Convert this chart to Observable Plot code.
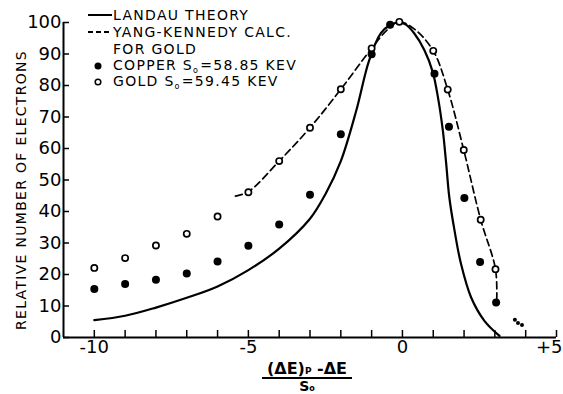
<!DOCTYPE html>
<html><head><meta charset="utf-8">
<script src="https://cdn.jsdelivr.net/npm/d3@7"></script>
<script src="https://cdn.jsdelivr.net/npm/@observablehq/plot@0.6"></script>
<style>
body{margin:0;background:#fff;}
#wrap{position:relative;width:563px;height:394px;font-family:"DejaVu Sans",sans-serif;color:#000;overflow:hidden;}
#wrap svg{position:absolute;left:0;top:0;}
</style></head><body><div id="wrap"></div>
<script>
// tick values
const xDomain = [-11, 5];
const xTicks = d3.range(-10, 6);
const xLabels = [-10, -5, 0, 5];
const yTicks = d3.range(0, 101, 10);

// Landau theory curve
const landauX = [-10, -9, -8, -7, -6, -5, -4, -3, -2.5, -2, -1.5, -1.08, -0.7, -0.4, -0.15, 0.1, 0.38, 0.71, 0.98, 1.15, 1.31, 1.42, 1.52, 1.69, 1.9, 2.23, 2.66, 3.15];
const landauY = [5.5, 6.9, 9.5, 12.6, 16.2, 21.4, 28.2, 37.7, 45.5, 56, 72, 88, 96.6, 99.2, 100, 99.4, 96.6, 91.3, 84.4, 76.4, 65.8, 55.2, 44.6, 34, 23.4, 12.7, 5.3, 0.5];

// Yang-Kennedy calc. for gold
const ykX = [-5.42, -5, -4, -3, -2, -1, -0.5, -0.1, 0.4, 1.0, 1.47, 1.99, 2.54, 3.02, 3.06];
const ykY = [44.9, 46.3, 56, 66.6, 78.8, 91.8, 97.6, 100.2, 97.8, 91, 78.7, 59.5, 37.4, 21.7, 11.7];

// Copper points
const copperX = [-10, -9, -8, -7, -6, -5, -4, -3, -2, -1, -0.4, 1.04, 1.51, 2.01, 2.52, 3.04];
const copperY = [15.4, 17, 18.3, 20.3, 24.1, 29.1, 35.9, 45.3, 64.5, 89.9, 99.3, 83.7, 66.9, 44.3, 24, 11.1];

// Gold points
const goldX = [-10, -9, -8, -7, -6, -5, -4, -3, -2, -1, -0.1, 1.0, 1.47, 1.99, 2.54, 3.02];
const goldY = [22.1, 25.2, 29.2, 32.9, 38.4, 46.1, 56, 66.6, 78.8, 91.8, 100.2, 91, 78.7, 59.5, 37.4, 21.7];

// smudge near +3.8
const smudgeX = [3.65, 3.75, 3.88];
const smudgeY = [5.6, 4.6, 4.0];

const zip = (xs, ys) => xs.map((x, i) => ({x, y: ys[i]}));
const landau = zip(landauX, landauY);
const yk = zip(ykX, ykY);
const copper = zip(copperX, copperY);
const gold = zip(goldX, goldY);
const smudge = zip(smudgeX, smudgeY);

const plot = Plot.plot({
  width: 563, height: 394,
  marginLeft: 63, marginRight: 7, marginTop: 22, marginBottom: 57,
  style: {fontFamily: "DejaVu Sans", fontSize: "18px", background: "white", color: "black", overflow: "visible"},
  x: {domain: xDomain, label: null},
  y: {domain: [0, 100], label: null},
  marks: [
    Plot.ruleY([0], {strokeWidth: 2}),
    Plot.ruleX([xDomain[0]], {strokeWidth: 2}),
    Plot.axisX({ticks: xTicks, tickSize: -7, tickFormat: () => "", strokeWidth: 1.5, label: null}),
    Plot.text(xLabels, {x: d => d, frameAnchor: "bottom", lineAnchor: "top", dy: 3, fontSize: 18,
      text: d => d > 0 ? "+" + d : String(d), textAnchor: "middle"}),
    Plot.axisY({ticks: yTicks, tickSize: -6, tickPadding: 8, fontSize: 18, strokeWidth: 1.5, label: null}),
    Plot.line(landau, {x: "x", y: "y", curve: "catmull-rom", strokeWidth: 2.2}),
    Plot.line(yk, {x: "x", y: "y", curve: "catmull-rom", strokeWidth: 1.7, strokeDasharray: "7,4"}),
    Plot.dot(copper, {x: "x", y: "y", r: 4, fill: "black"}),
    Plot.dot(gold, {x: "x", y: "y", r: 3.1, stroke: "black", fill: "white", strokeWidth: 1.7}),
    Plot.dot(smudge, {x: "x", y: "y", r: 2, fill: "black"})
  ]
});
const wrap = document.getElementById("wrap");
wrap.appendChild(plot);

// keep the "+5" label inside the picture, as in the reference
d3.select(plot).selectAll("text").filter(function() { return this.textContent === "+5"; })
  .attr("text-anchor", "end").attr("dx", 6);

// overlay: legend and axis titles
const ov = d3.select(wrap).append("svg").attr("width", 563).attr("height", 394)
  .style("pointer-events", "none")
  .attr("font-family", "DejaVu Sans").attr("fill", "black");

const lg = ov.append("g").attr("font-size", 14).attr("letter-spacing", 1.3);
lg.append("line").attr("x1", 88).attr("x2", 112).attr("y1", 15).attr("y2", 15).attr("stroke", "black").attr("stroke-width", 2);
lg.append("line").attr("x1", 88).attr("x2", 112).attr("y1", 32).attr("y2", 32).attr("stroke", "black").attr("stroke-width", 2).attr("stroke-dasharray", "5,3");
lg.append("text").attr("x", 113).attr("y", 20).text("LANDAU THEORY");
lg.append("text").attr("x", 113).attr("y", 37).text("YANG-KENNEDY CALC.");
lg.append("text").attr("x", 113).attr("y", 53.5).text("FOR GOLD");
lg.append("circle").attr("cx", 98).attr("cy", 66).attr("r", 3.5).attr("fill", "black");
const t1 = lg.append("text").attr("x", 113).attr("y", 69.5);
t1.append("tspan").text("COPPER  S");
t1.append("tspan").attr("font-size", 8).attr("dy", 3).text("o");
t1.append("tspan").attr("dy", -3).attr("dx", 1).text("=58.85 KEV");
lg.append("circle").attr("cx", 98).attr("cy", 82).attr("r", 2.8).attr("fill", "white").attr("stroke", "black").attr("stroke-width", 1.5);
const t2 = lg.append("text").attr("x", 113).attr("y", 85.5);
t2.append("tspan").text("GOLD   S");
t2.append("tspan").attr("font-size", 8).attr("dy", 3).text("o");
t2.append("tspan").attr("dy", -3).attr("dx", 1).text("=59.45 KEV");

// y title
ov.append("text").attr("transform", "translate(26,190) rotate(-90)")
  .attr("text-anchor", "middle").attr("font-size", 14).attr("letter-spacing", 1.3)
  .text("RELATIVE NUMBER OF ELECTRONS");

// x title (fraction)
const xt = ov.append("text").attr("x", 307).attr("y", 374).attr("text-anchor", "middle")
  .attr("font-size", 16).attr("font-weight", "bold");
xt.append("tspan").text("(ΔE)");
xt.append("tspan").attr("font-size", 9).text("P");
xt.append("tspan").text(" -ΔE");
ov.append("line").attr("x1", 262).attr("x2", 352).attr("y1", 378).attr("y2", 378).attr("stroke", "black").attr("stroke-width", 2);
const dt = ov.append("text").attr("x", 307).attr("y", 391).attr("text-anchor", "middle")
  .attr("font-size", 14).attr("font-weight", "bold");
dt.append("tspan").text("S");
dt.append("tspan").attr("font-size", 8).text("o");
</script>
</body></html>
